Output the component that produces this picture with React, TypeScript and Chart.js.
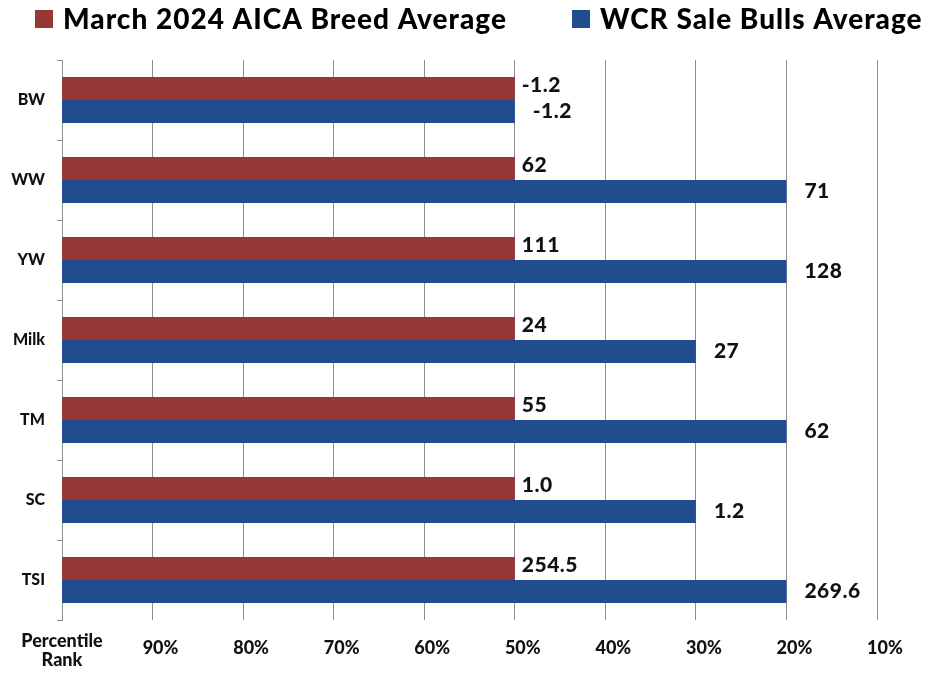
import React, { useEffect, useRef } from 'react';
import { Chart, registerables } from 'chart.js';

Chart.register(...registerables);

const categories = ['BW', 'WW', 'YW', 'Milk', 'TM', 'SC', 'TSI'];
const breedPercentile = [50, 50, 50, 50, 50, 50, 50];
const wcrPercentile = [50, 20, 20, 30, 20, 30, 20];
const breedLabels = ['-1.2', '62', '111', '24', '55', '1.0', '254.5'];
const wcrLabels = ['-1.2', '71', '128', '27', '62', '1.2', '269.6'];
const seriesNames = ['March 2024 AICA Breed Average', 'WCR Sale Bulls Average'];
const axisTitle = ['Percentile', 'Rank'];

const RED = '#963735';
const BLUE = '#1F4D8D';
const GRID = '#8c8c8c';
const FONT = 'Lato, "DejaVu Sans", sans-serif';
const W = '900';

const labelsPlugin = {
  id: 'customLabels',
  afterDatasetsDraw(chart: any) {
    const ctx = chart.ctx;
    ctx.save();
    ctx.fillStyle = '#111';
    ctx.font = `${W} 21px ${FONT}`;
    (ctx as any).letterSpacing = '0.5px';
    ctx.textAlign = 'left';
    ctx.textBaseline = 'middle';
    const sets = [
      { idx: 0, labels: breedLabels, dx: 7, dy: -3 },
      { idx: 1, labels: wcrLabels, dx: 18, dy: 0 },
    ];
    sets.forEach((s) => {
      const meta = chart.getDatasetMeta(s.idx);
      meta.data.forEach((bar: any, i: number) => {
        const end = Math.max(bar.x, bar.base);
        ctx.fillText(s.labels[i], end + s.dx, bar.y + s.dy);
      });
    });
    // axis title under the y axis
    (ctx as any).letterSpacing = '0px';
    ctx.font = `${W} 18px ${FONT}`;
    ctx.textAlign = 'center';
    const left = chart.chartArea.left;
    ctx.fillText(axisTitle[0], left, 641);
    ctx.fillText(axisTitle[1], left, 660);
    // legend
    ctx.font = `${W} 28px ${FONT}`;
    (ctx as any).letterSpacing = '1px';
    ctx.textAlign = 'left';
    ctx.textBaseline = 'alphabetic';
    const items = [
      { color: RED, x: 35, text: seriesNames[0] },
      { color: BLUE, x: 572, text: seriesNames[1] },
    ];
    items.forEach((it) => {
      ctx.fillStyle = it.color;
      ctx.fillRect(it.x, 10, 18, 18);
      ctx.fillStyle = '#000';
      ctx.fillText(it.text, it.x + 28, 29);
    });
    ctx.restore();
  },
};

export default function App() {
  const canvasRef = useRef<HTMLCanvasElement | null>(null);

  useEffect(() => {
    if (!canvasRef.current) return;
    const chart = new Chart(canvasRef.current, {
      type: 'bar',
      data: {
        labels: categories,
        datasets: [
          {
            label: seriesNames[0],
            data: breedPercentile.map((v) => [100, v]) as any,
            backgroundColor: RED,
            borderWidth: 0,
            categoryPercentage: 0.575,
            barPercentage: 1,
          },
          {
            label: seriesNames[1],
            data: wcrPercentile.map((v) => [100, v]) as any,
            backgroundColor: BLUE,
            borderWidth: 0,
            categoryPercentage: 0.575,
            barPercentage: 1,
          },
        ],
      },
      options: {
        indexAxis: 'y',
        animation: false,
        responsive: true,
        maintainAspectRatio: false,
        layout: { padding: { top: 60, right: 62, left: 0, bottom: 0 } },
        plugins: {
          legend: { display: false },
          tooltip: { enabled: false },
        },
        scales: {
          x: {
            min: 10,
            max: 100,
            reverse: true,
            border: { display: false },
            grid: { color: GRID, lineWidth: 1, drawTicks: false },
            ticks: {
              stepSize: 10,
              padding: 17,
              labelOffset: 8,
              color: '#111',
              font: { family: FONT, size: 18, weight: W as any },
              callback: (v: any) => (Number(v) >= 100 ? '' : `${v}%`),
            },
            afterFit: (scale: any) => {
              scale.height = 59;
            },
          },
          y: {
            border: { display: true, color: GRID, width: 1 },
            grid: {
              drawOnChartArea: false,
              drawTicks: true,
              tickLength: 5,
              color: GRID,
              offset: true,
            },
            ticks: {
              padding: 12,
              color: '#111',
              font: { family: FONT, size: 16, weight: W as any },
            },
            afterFit: (scale: any) => {
              scale.width = 62;
            },
          },
        },
      },
      plugins: [labelsPlugin],
    });
    return () => chart.destroy();
  }, []);

  return (
    <div style={{ position: 'fixed', left: 0, top: 0, width: 939, height: 679, background: '#fff' }}>
      <canvas ref={canvasRef} />
    </div>
  );
}
